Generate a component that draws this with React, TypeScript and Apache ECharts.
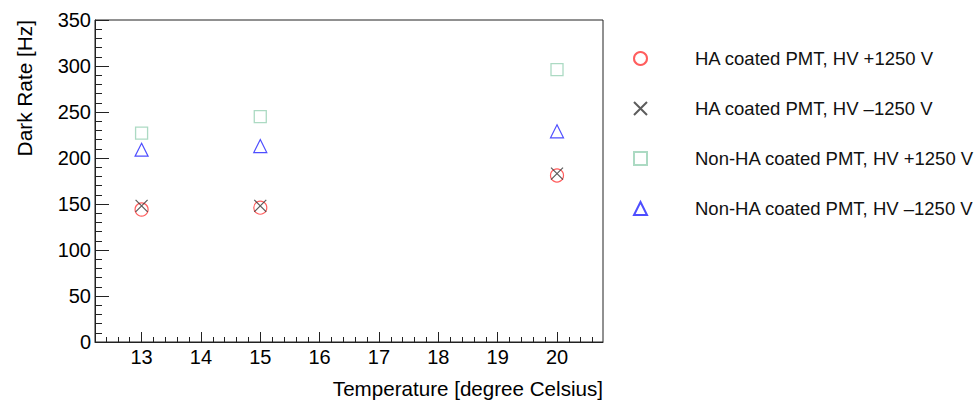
import React, { useEffect, useRef } from "react";
import * as echarts from "echarts";

const seriesNames = [
  "HA coated PMT, HV +1250 V",
  "HA coated PMT, HV \u20131250 V",
  "Non-HA coated PMT, HV +1250 V",
  "Non-HA coated PMT, HV \u20131250 V",
];
const temperatures = [13, 15, 20];
const haPlus = [144, 146, 181];
const haMinus = [148, 148, 183];
const nonHaPlus = [227, 245, 296];
const nonHaMinus = [209, 213, 229];

const xMajorTicks = [13, 14, 15, 16, 17, 18, 19, 20];
const xMin = 12.215;
const xMax = 20.775;
const yMin = 0;
const yMax = 350;
const yStep = 50;

const xTitle = "Temperature [degree Celsius]";
const yTitle = "Dark Rate [Hz]";

const FONT = "'Liberation Sans', Arial, Helvetica, sans-serif";

function minorTicks(): number[] {
  const out: number[] = [];
  for (let i = 62; i <= 103; i++) {
    if (i % 5 === 0) continue;
    out.push(Math.round(i * 2) / 10);
  }
  return out;
}

const pairs = (ys: number[]) => temperatures.map((t, i) => [t, ys[i]]);

export default function App() {
  const ref = useRef<HTMLDivElement>(null);
  useEffect(() => {
    if (!ref.current) return;
    const chart = echarts.init(ref.current, undefined, { renderer: "svg" });
    const grid = { left: 95, right: 373, top: 20, bottom: 58 };
    const axisLine = { show: true, lineStyle: { color: "#222", width: 1 } };
    chart.setOption({
      animation: false,
      backgroundColor: "#fff",
      textStyle: { fontFamily: FONT },
      grid: { ...grid, show: true, borderColor: "#222", borderWidth: 1, backgroundColor: "transparent" },
      xAxis: [
        {
          type: "value",
          min: xMin,
          max: xMax,
          axisLine,
          splitLine: { show: false },
          axisTick: { show: true, inside: true, length: 10, customValues: xMajorTicks, lineStyle: { color: "#222" } },
          axisLabel: { show: true, customValues: xMajorTicks, fontSize: 20, color: "#000", margin: 5, fontFamily: FONT },
        },
        {
          type: "value",
          min: xMin,
          max: xMax,
          position: "bottom",
          axisLine: { show: false },
          splitLine: { show: false },
          axisTick: { show: true, inside: true, length: 5, customValues: minorTicks(), lineStyle: { color: "#222" } },
          axisLabel: { show: false },
        },
      ],
      yAxis: {
        type: "value",
        min: yMin,
        max: yMax,
        interval: yStep,
        axisLine,
        splitLine: { show: false },
        axisTick: { show: true, inside: true, length: 14, lineStyle: { color: "#222" } },
        minorTick: { show: true, splitNumber: 5, length: 7, lineStyle: { color: "#222" } },
        axisLabel: { fontSize: 20, color: "#000", margin: 4, fontFamily: FONT },
      },
      legend: {
        orient: "vertical",
        left: 633,
        top: 49,
        padding: 0,
        itemWidth: 13,
        itemHeight: 13,
        itemGap: 31,
        data: seriesNames,
        textStyle: { fontSize: 18.5, color: "#111", lineHeight: 17, padding: [0, 0, 0, 43], fontFamily: FONT },
      },
      series: [
        {
          name: seriesNames[0],
          type: "scatter",
          data: pairs(haPlus),
          symbol: "circle",
          symbolSize: 13,
          itemStyle: { color: "rgba(0,0,0,0)", borderColor: "#ff3535", borderWidth: 1.2 },
        },
        {
          name: seriesNames[1],
          type: "scatter",
          data: pairs(haMinus),
          symbol: "path://M0,0L10,10M10,0L0,10",
          symbolSize: 12,
          itemStyle: { color: "rgba(0,0,0,0)", borderColor: "#333", borderWidth: 1.2 },
        },
        {
          name: seriesNames[2],
          type: "scatter",
          data: pairs(nonHaPlus),
          symbol: "rect",
          symbolSize: 12,
          itemStyle: { color: "rgba(0,0,0,0)", borderColor: "#97d1b4", borderWidth: 1.3 },
        },
        {
          name: seriesNames[3],
          type: "scatter",
          data: pairs(nonHaMinus),
          symbol: "triangle",
          symbolSize: 13,
          itemStyle: { color: "rgba(0,0,0,0)", borderColor: "#2222ff", borderWidth: 1.2 },
        },
      ],
      graphic: [
        {
          type: "text",
          x: 603,
          y: 378,
          style: { text: xTitle, fontSize: 20.6, fontFamily: FONT, fill: "#000", textAlign: "right", textVerticalAlign: "top" },
        },
        {
          type: "text",
          x: 24,
          y: 20,
          rotation: Math.PI / 2,
          style: { text: yTitle, fontSize: 20.8, fontFamily: FONT, fill: "#000", textAlign: "right", textVerticalAlign: "middle" },
        },
      ],
    });
    return () => chart.dispose();
  }, []);
  return <div ref={ref} style={{ position: "fixed", left: 0, top: 0, width: 976, height: 400 }} />;
}
